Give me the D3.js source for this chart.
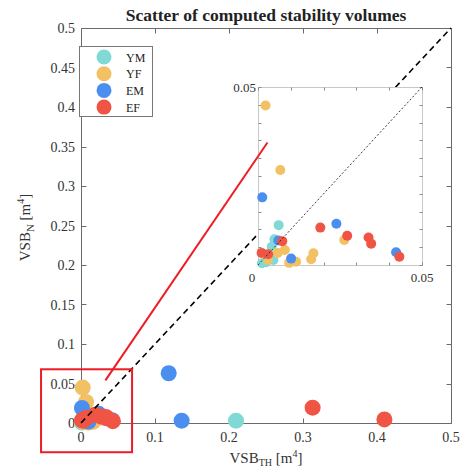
<!DOCTYPE html>
<html>
<head>
<meta charset="utf-8">
<script src="https://cdn.jsdelivr.net/npm/d3@7"></script>
<style>
  html, body { margin: 0; padding: 0; background: #fff; }
  svg { display: block; }
  text { font-family: "Liberation Serif", "DejaVu Serif", serif; }
</style>
</head>
<body>
<svg id="chart" width="469" height="474"></svg>
<script>
// Stability volumes per group: [VSB_TH, VSB_N] in m^4
const seriesNames = ["YM", "YF", "EM", "EF"];
const seriesColors = ["#80d9d5", "#f1c163", "#4a8ff0", "#f05444"];

const ymX = [0.2095, 0.0063, 0.0050, 0.0042, 0.0047, 0.0012, 0.0025];
const ymY = [0.0030, 0.0112, 0.0072, 0.0051, 0.0014, 0.0005, 0.0008];

const yfX = [0.0023, 0.0068, 0.0263, 0.0169, 0.0162, 0.0095, 0.0116, 0.0082, 0.0060, 0.0030];
const yfY = [0.0448, 0.0267, 0.0070, 0.0033, 0.0016, 0.0006, 0.0009, 0.0042, 0.0034, 0.0015];

const emX = [0.1185, 0.1360, 0.0013, 0.0239, 0.0421, 0.0101, 0.0062];
const emY = [0.0630, 0.0030, 0.0190, 0.0116, 0.0036, 0.0018, 0.0069];

const efX = [0.3130, 0.4100, 0.0190, 0.0272, 0.0337, 0.0345, 0.0431, 0.0074, 0.0011, 0.0031];
const efY = [0.0194, 0.0045, 0.0105, 0.0082, 0.0077, 0.0060, 0.0023, 0.0067, 0.0034, 0.0030];

const xTicks = [0, 0.1, 0.2, 0.3, 0.4, 0.5];
const yTicks = [0, 0.05, 0.1, 0.15, 0.2, 0.25, 0.3, 0.35, 0.4, 0.45, 0.5];
const insetLimit = 0.05;
const insetTickLabels = [0, 0.05];

// Zoom box and connector, in main data units
const zoomBoxX = [-0.054, 0.069];
const zoomBoxY = [-0.037, 0.068];
const connectorX = [0.033, 0.252];
const connectorY = [0.054, 0.355];

const series = seriesNames.map((name, i) => {
  const xs = [ymX, yfX, emX, efX][i];
  const ys = [ymY, yfY, emY, efY][i];
  return { name, color: seriesColors[i], points: xs.map((x, j) => ({ x, y: ys[j] })) };
});

const svg = d3.select("#chart");
const fmt = d => (d === 0 ? "0" : String(+d.toFixed(2)));

// ---- main axes ----
const m = { left: 81, top: 28, right: 451, bottom: 423 };
const x = d3.scaleLinear().domain([0, 0.5]).range([m.left, m.right]);
const y = d3.scaleLinear().domain([0, 0.5]).range([m.bottom, m.top]);
const axisColor = "#6a6a6a";
const labelColor = "#333";

const gMain = svg.append("g");

// axis lines and inward ticks on all four sides
const axG = gMain.append("g").attr("fill", "none").attr("stroke", axisColor).attr("stroke-width", 1);
axG.append("path").attr("d",
  `M${m.left + 0.5},${m.top + 0.5}V${m.bottom + 0.5}H${m.right + 0.5}V${m.top + 0.5}H${m.left + 0.5}`);

const tickLen = 5;
xTicks.forEach(t => {
  const px = Math.round(x(t)) + 0.5;
  axG.append("line").attr("x1", px).attr("x2", px).attr("y1", m.bottom + 0.5).attr("y2", m.bottom + 0.5 - tickLen);
  axG.append("line").attr("x1", px).attr("x2", px).attr("y1", m.top + 0.5).attr("y2", m.top + 0.5 + tickLen);
});
yTicks.forEach(t => {
  const py = Math.round(y(t)) + 0.5;
  axG.append("line").attr("y1", py).attr("y2", py).attr("x1", m.left + 0.5).attr("x2", m.left + 0.5 + tickLen);
  axG.append("line").attr("y1", py).attr("y2", py).attr("x1", m.right + 0.5).attr("x2", m.right + 0.5 - tickLen);
});

// tick labels
gMain.append("g").selectAll("text").data(xTicks).join("text")
  .attr("x", d => x(d)).attr("y", m.bottom + 19)
  .attr("text-anchor", "middle").attr("font-size", 14).attr("fill", labelColor)
  .text(fmt);
gMain.append("g").selectAll("text").data(yTicks).join("text")
  .attr("x", m.left - 6).attr("y", d => y(d) + 5)
  .attr("text-anchor", "end").attr("font-size", 14).attr("fill", labelColor)
  .text(fmt);

// title
svg.append("text").attr("x", (m.left + m.right) / 2).attr("y", 21)
  .attr("text-anchor", "middle").attr("font-size", 17.5).attr("font-weight", "bold")
  .attr("fill", "#222").text("Scatter of computed stability volumes");

// axis titles
const xl = svg.append("text").attr("x", (m.left + m.right) / 2).attr("y", 463)
  .attr("text-anchor", "middle").attr("font-size", 15).attr("fill", labelColor);
xl.append("tspan").text("VSB");
xl.append("tspan").attr("font-size", 10).attr("dy", 3).text("TH");
xl.append("tspan").attr("dy", -3).text(" [m");
xl.append("tspan").attr("font-size", 10).attr("dy", -6).text("4");
xl.append("tspan").attr("dy", 6).text("]");

const yl = svg.append("text")
  .attr("transform", `translate(30,${(m.top + m.bottom) / 2 + 2}) rotate(-90)`)
  .attr("text-anchor", "middle").attr("font-size", 15).attr("fill", labelColor);
yl.append("tspan").text("VSB");
yl.append("tspan").attr("font-size", 11).attr("dy", 4).text("N");
yl.append("tspan").attr("dy", -4).text(" [m");
yl.append("tspan").attr("font-size", 10).attr("dy", -6).text("4");
yl.append("tspan").attr("dy", 6).text("]");

// main scatter
series.forEach(s => {
  gMain.append("g").selectAll("circle").data(s.points).join("circle")
    .attr("cx", d => x(d.x)).attr("cy", d => y(d.y)).attr("r", 8)
    .attr("fill", s.color);
});

// identity line
gMain.append("line")
  .attr("x1", x(0)).attr("y1", y(0)).attr("x2", x(0.5)).attr("y2", y(0.5))
  .attr("stroke", "#000").attr("stroke-width", 1.6).attr("stroke-dasharray", "6,4");

// ---- inset (zoom of [0, 0.05]) ----
const ins = { left: 258, top: 87, right: 422, bottom: 265 };
const ix = d3.scaleLinear().domain([0, insetLimit]).range([ins.left, ins.right]);
const iy = d3.scaleLinear().domain([0, insetLimit]).range([ins.bottom, ins.top]);
const gIn = svg.append("g");

gIn.append("rect").attr("x", ins.left + 0.5).attr("y", ins.top + 0.5)
  .attr("width", ins.right - ins.left).attr("height", ins.bottom - ins.top)
  .attr("fill", "#fff").attr("stroke", "#c8c8c8").attr("stroke-width", 1);

const itG = gIn.append("g").attr("stroke", "#8a8a8a").attr("stroke-width", 1);
d3.range(0, 6).map(i => i * 0.01).forEach(t => {
  const px = Math.round(ix(t)) + 0.5;
  itG.append("line").attr("x1", px).attr("x2", px).attr("y1", ins.bottom + 0.5).attr("y2", ins.bottom - 2.5);
  itG.append("line").attr("x1", px).attr("x2", px).attr("y1", ins.top + 0.5).attr("y2", ins.top + 3.5);
});
d3.range(0, 11).map(i => i * 0.005).forEach(t => {
  const py = Math.round(iy(t)) + 0.5;
  itG.append("line").attr("y1", py).attr("y2", py).attr("x1", ins.left + 0.5).attr("x2", ins.left + 3.5);
  itG.append("line").attr("y1", py).attr("y2", py).attr("x1", ins.right + 0.5).attr("x2", ins.right - 2.5);
});

gIn.append("text").attr("x", ins.left - 6).attr("y", iy(insetTickLabels[0]) + 17)
  .attr("text-anchor", "middle").attr("font-size", 13).attr("fill", labelColor).text(fmt(insetTickLabels[0]));
gIn.append("text").attr("x", ix(insetTickLabels[1])).attr("y", iy(0) + 17)
  .attr("text-anchor", "middle").attr("font-size", 13).attr("fill", labelColor).text(fmt(insetTickLabels[1]));
gIn.append("text").attr("x", ins.left - 2).attr("y", iy(insetTickLabels[1]) + 5)
  .attr("text-anchor", "end").attr("font-size", 13).attr("fill", labelColor).text(fmt(insetTickLabels[1]));

series.forEach(s => {
  gIn.append("g").selectAll("circle")
    .data(s.points.filter(d => d.x <= insetLimit && d.y <= insetLimit)).join("circle")
    .attr("cx", d => ix(d.x)).attr("cy", d => iy(d.y)).attr("r", 5)
    .attr("fill", s.color);
});

gIn.append("line")
  .attr("x1", ix(0)).attr("y1", iy(0)).attr("x2", ix(insetLimit)).attr("y2", iy(insetLimit))
  .attr("stroke", "#222").attr("stroke-width", 0.9).attr("stroke-dasharray", "2,2");

// ---- zoom box and connector ----
svg.append("rect")
  .attr("x", x(zoomBoxX[0])).attr("y", y(zoomBoxY[1]))
  .attr("width", x(zoomBoxX[1]) - x(zoomBoxX[0])).attr("height", y(zoomBoxY[0]) - y(zoomBoxY[1]))
  .attr("fill", "none").attr("stroke", "#ee1c25").attr("stroke-width", 2);
svg.append("line")
  .attr("x1", x(connectorX[0])).attr("y1", y(connectorY[0]))
  .attr("x2", x(connectorX[1])).attr("y2", y(connectorY[1]))
  .attr("stroke", "#ee1c25").attr("stroke-width", 2);

// ---- legend ----
const lg = svg.append("g");
lg.append("rect").attr("x", 79.5).attr("y", 46.5).attr("width", 73).attr("height", 70)
  .attr("fill", "#fff").attr("stroke", "#777").attr("stroke-width", 1);
series.forEach((s, i) => {
  const cy = 57 + i * 16.7;
  lg.append("circle").attr("cx", 104).attr("cy", cy).attr("r", 7.5).attr("fill", s.color);
  lg.append("text").attr("x", 126).attr("y", cy + 4.5).attr("font-size", 12)
    .attr("fill", "#222").text(s.name);
});
</script>
</body>
</html>
